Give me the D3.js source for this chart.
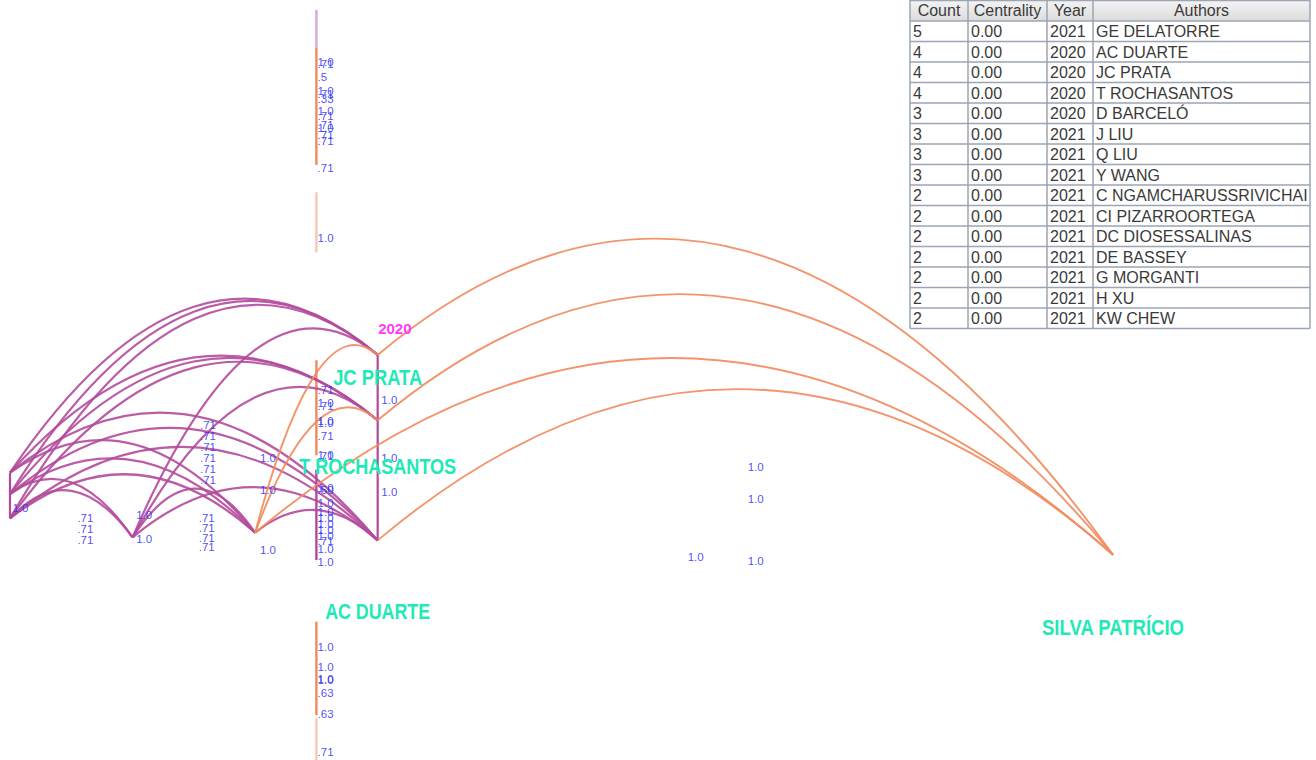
<!DOCTYPE html>
<html>
<head>
<meta charset="utf-8">
<script src="https://cdn.jsdelivr.net/npm/d3@7"></script>
<style>
  html, body { margin: 0; padding: 0; background: #ffffff; }
  svg { display: block; }
</style>
</head>
<body>
<svg id="chart" width="1316" height="760"></svg>
<script>
// ---- Network layout: time slice (x) and layout height 0-100 (y) ----
const nodeIds    = ["L1", "L2", "L3", "N1", "N2", "PRATA", "ROCHA", "DUARTE", "SILVA"];
const nodeSlice  = [0, 0, 0, 1, 2, 3, 3, 3, 9];
const nodeLayY   = [62.2, 65.0, 68.2, 70.7, 70.1, 46.7, 55.3, 71.1, 73.0];

// co-authorship links: source, target, arc crest height, link group
const linkSource = ["L1","L2","L3","N1","L1","L2","L3","N1","L1","L2","L3","N1","N2",
                    "L1","L2","L3","L2","L3","N1",
                    "N2","N2","PRATA","ROCHA","N2","DUARTE"];
const linkTarget = ["PRATA","PRATA","PRATA","PRATA","ROCHA","ROCHA","ROCHA","ROCHA",
                    "DUARTE","DUARTE","DUARTE","DUARTE","DUARTE",
                    "N2","N2","N2","N1","N1","N2",
                    "PRATA","ROCHA","SILVA","SILVA","SILVA","SILVA"];
const linkCrest  = [39.3, 39.6, 40.1, 43.2, 46.8, 47.1, 47.6, 50.9,
                    54.3, 56.3, 58.8, 64.1, 67.1,
                    57.9, 60.3, 62.4, 63.0, 64.5, 64.3,
                    45.4, 53.6, 31.4, 38.7, 47.1, 51.2];
const linkGroup  = ["p","p","p","p","p","p","p","p","p","p","p","p","p",
                    "p","p","p","p","p","p",
                    "o","o","o","o","o","o"];

// time-slice bars: slice, start, end, tone
const barSlice = [2.5, 2.5, 2.5, 2.5, 2.5, 2.5, 2.5];
const barStart = [1.3, 6.3, 25.3, 47.4, 61.8, 81.8, 94.5];
const barEnd   = [6.3, 21.7, 33.2, 59.9, 73.7, 94.1, 100];
const barTone  = ["pl", "o", "ol", "o", "p", "o", "ol"];

// link weight labels: slice, height, text
const weightLabels = [
  [2.51, 8.2, "1.0"], [2.51, 8.4, ".71"], [2.51, 10.1, ".5"], [2.51, 12.0, "1.0"],
  [2.51, 12.4, ".71"], [2.51, 13.0, ".33"], [2.51, 14.6, "1.0"], [2.51, 15.3, ".71"],
  [2.51, 16.4, ".71"], [2.51, 16.8, "1.0"], [2.51, 17.8, ".71"], [2.51, 18.6, ".71"],
  [2.51, 22.1, ".71"], [2.51, 31.3, "1.0"],
  [2.51, 51.3, ".71"], [2.51, 53.0, "1.0"], [2.51, 53.4, ".71"], [2.51, 55.4, "1.0"],
  [2.51, 55.7, "1.0"], [2.51, 57.4, ".71"], [2.51, 59.9, "1.0"], [2.51, 60.0, ".71"],
  [2.51, 64.2, "1.0"], [2.51, 64.5, ".50"], [2.51, 66.2, "1.0"], [2.51, 67.4, "1.0"],
  [2.51, 68.2, "1.0"], [2.51, 68.9, "1.0"], [2.51, 69.7, "1.0"], [2.51, 70.5, "1.0"],
  [2.51, 71.2, ".71"], [2.51, 72.2, "1.0"], [2.51, 73.9, "1.0"],
  [3.03, 52.6, "1.0"], [3.03, 60.3, "1.0"], [3.03, 64.7, "1.0"],
  [0.02, 66.8, "1.0"], [0.55, 68.2, ".71"], [0.55, 69.6, ".71"], [0.55, 71.1, ".71"],
  [1.03, 67.8, "1.0"], [1.03, 70.9, "1.0"],
  [1.55, 55.9, ".71"], [1.55, 57.4, ".71"], [1.55, 58.8, ".71"], [1.55, 60.3, ".71"],
  [1.55, 61.7, ".71"], [1.55, 63.2, ".71"],
  [1.54, 68.2, ".71"], [1.54, 69.5, ".71"], [1.54, 70.8, ".71"], [1.54, 72.0, ".71"],
  [2.04, 60.3, "1.0"], [2.04, 64.5, "1.0"], [2.04, 72.4, "1.0"],
  [6.02, 61.4, "1.0"], [6.02, 65.7, "1.0"], [6.02, 73.8, "1.0"], [5.53, 73.3, "1.0"],
  [2.51, 85.1, "1.0"], [2.51, 87.8, "1.0"], [2.51, 89.3, "1.0"], [2.51, 89.5, "1.0"],
  [2.51, 91.2, ".63"], [2.51, 93.9, ".63"], [2.51, 98.9, ".71"]
];

// author labels
const authorNames = ["JC PRATA", "T ROCHASANTOS", "AC DUARTE", "SILVA PATRÍCIO"];
const authorSlice = [3.0, 3.0, 3.0, 9.0];
const authorLayY  = [49.7, 61.4, 80.4, 82.5];
const authorWidth = [89, 157, 105, 142];

// time slice label
const sliceLabel = "2020";
const sliceLabelPos = [3.14, 43.3];

// ---- table of top authors ----
const tableHeaders = ["Count", "Centrality", "Year", "Authors"];
const counts      = [5, 4, 4, 4, 3, 3, 3, 3, 2, 2, 2, 2, 2, 2, 2];
const centrality  = ["0.00","0.00","0.00","0.00","0.00","0.00","0.00","0.00",
                     "0.00","0.00","0.00","0.00","0.00","0.00","0.00"];
const years       = [2021, 2020, 2020, 2020, 2020, 2021, 2021, 2021, 2021, 2021, 2021, 2021, 2021, 2021, 2021];
const authors     = ["GE DELATORRE", "AC DUARTE", "JC PRATA", "T ROCHASANTOS", "D BARCELÓ",
                     "J LIU", "Q LIU", "Y WANG", "C NGAMCHARUSSRIVICHAI", "CI PIZARROORTEGA",
                     "DC DIOSESSALINAS", "DE BASSEY", "G MORGANTI", "H XU", "KW CHEW"];

// ---- scales ----
const x = d3.scaleLinear().domain([0, 9]).range([10, 1113]);
const y = d3.scaleLinear().domain([0, 100]).range([0, 760]);

const colors = {
  p:  "#b24a9c",
  pl: "#dca6d6",
  o:  "#f2895c",
  ol: "#f8c6b2"
};

const svg = d3.select("#chart");

const nodePos = {};
nodeIds.forEach((id, i) => { nodePos[id] = [x(nodeSlice[i]), y(nodeLayY[i])]; });

// parabolic arc through both ends whose highest point sits at the crest height
function arcPath(a, b, crest) {
  let [x0, y0] = a, [x2, y2] = b;
  if (x2 < x0) { [x0, y0, x2, y2] = [x2, y2, x0, y0]; }
  const s0 = Math.sqrt(Math.max(y0 - crest, 0.01));
  const s2 = Math.sqrt(Math.max(y2 - crest, 0.01));
  const r = (s0 + s2) / (x2 - x0);
  const k = r * r;
  const px = x0 + s0 / r;
  const xm = (x0 + x2) / 2;
  const cy = y0 + 2 * k * (x0 - px) * (xm - x0);
  const p = d3.path();
  p.moveTo(x0, y0);
  p.quadraticCurveTo(xm, cy, x2, y2);
  return p.toString();
}

// time-slice bars
const bars = barSlice.map((s, i) => ({ s, a: barStart[i], b: barEnd[i], t: barTone[i] }));
svg.append("g").selectAll("line").data(bars).join("line")
  .attr("x1", d => x(d.s)).attr("x2", d => x(d.s))
  .attr("y1", d => y(d.a)).attr("y2", d => y(d.b))
  .attr("stroke", d => colors[d.t])
  .attr("stroke-width", 2.4);

// node stems within a slice
const stems = [["L1", "L3"], ["PRATA", "DUARTE"]];
svg.append("g").selectAll("line").data(stems).join("line")
  .attr("x1", d => nodePos[d[0]][0]).attr("x2", d => nodePos[d[1]][0])
  .attr("y1", d => nodePos[d[0]][1]).attr("y2", d => nodePos[d[1]][1])
  .attr("stroke", colors.p)
  .attr("stroke-width", 2.2);

// links
const links = linkSource.map((s, i) => ({ s, t: linkTarget[i], c: linkCrest[i], g: linkGroup[i] }));
svg.append("g").attr("fill", "none").selectAll("path").data(links).join("path")
  .attr("d", d => arcPath(nodePos[d.s], nodePos[d.t], y(d.c)))
  .attr("stroke", d => colors[d.g])
  .attr("stroke-width", d => d.g === "p" ? 2.2 : 1.9)
  .attr("stroke-opacity", 0.9);

// weight labels
svg.append("g").selectAll("text").data(weightLabels).join("text")
  .attr("x", d => x(d[0])).attr("y", d => y(d[1]))
  .attr("dy", "0.35em")
  .attr("font-family", "'Liberation Sans Narrow', 'Liberation Sans', Arial, sans-serif")
  .attr("font-size", 11.5)
  .attr("fill", "#2f2ff5")
  .attr("fill-opacity", 0.85)
  .text(d => d[2]);

// slice year
svg.append("text")
  .attr("x", x(sliceLabelPos[0])).attr("y", y(sliceLabelPos[1]))
  .attr("dy", "0.35em")
  .attr("text-anchor", "middle")
  .attr("font-family", "'Liberation Sans Narrow', 'Liberation Sans', Arial, sans-serif")
  .attr("font-weight", "bold")
  .attr("font-size", 15)
  .attr("fill", "#ff3cf5")
  .text(sliceLabel);

// author labels
svg.append("g").selectAll("text").data(authorNames).join("text")
  .attr("x", (d, i) => x(authorSlice[i])).attr("y", (d, i) => y(authorLayY[i]))
  .attr("dy", "0.35em")
  .attr("text-anchor", "middle")
  .attr("font-family", "'Liberation Sans Narrow', 'Liberation Sans', Arial, sans-serif")
  .attr("font-weight", "bold")
  .attr("font-size", 22)
  .attr("textLength", (d, i) => authorWidth[i])
  .attr("lengthAdjust", "spacingAndGlyphs")
  .attr("fill", "#1eeab6")
  .text(d => d);

// ---- table ----
const colEdges = [910, 968, 1047, 1093, 1310];
const headTop = 0, headH = 21, rowH = 20.5;
const tbl = svg.append("g").attr("font-family", "'Liberation Sans', Arial, sans-serif").attr("font-size", 16);

const grad = svg.append("defs").append("linearGradient").attr("id", "hdr").attr("x1", 0).attr("y1", 0).attr("x2", 0).attr("y2", 1);
grad.append("stop").attr("offset", "0%").attr("stop-color", "#f4f4f4");
grad.append("stop").attr("offset", "100%").attr("stop-color", "#dcdcdc");

const nRows = authors.length;
tbl.append("rect")
  .attr("x", colEdges[0]).attr("y", headTop)
  .attr("width", colEdges[4] - colEdges[0]).attr("height", headH + nRows * rowH)
  .attr("fill", "#ffffff");
tbl.append("rect")
  .attr("x", colEdges[0]).attr("y", headTop)
  .attr("width", colEdges[4] - colEdges[0]).attr("height", headH)
  .attr("fill", "url(#hdr)");

// header labels
tbl.selectAll("text.h").data(tableHeaders).join("text").attr("class", "h")
  .attr("x", (d, i) => (colEdges[i] + colEdges[i + 1]) / 2)
  .attr("y", headTop + headH / 2)
  .attr("dy", "0.35em")
  .attr("text-anchor", "middle")
  .attr("fill", "#3a3a3a")
  .text(d => d);

const rows = authors.map((a, i) => [String(counts[i]), centrality[i], String(years[i]), a]);
rows.forEach((r, ri) => {
  tbl.append("g").selectAll("text").data(r).join("text")
    .attr("x", (d, ci) => colEdges[ci] + 3)
    .attr("y", headTop + headH + ri * rowH + rowH / 2)
    .attr("dy", "0.36em")
    .attr("fill", "#3a3a3a")
    .text(d => d);
});

// grid
const gridColor = "#9aa5b5";
const hLines = d3.range(nRows + 2).map(i => i === 0 ? headTop + 0.5 : headTop + headH + (i - 1) * rowH);
tbl.append("g").selectAll("line").data(hLines).join("line")
  .attr("x1", colEdges[0]).attr("x2", colEdges[4])
  .attr("y1", d => d).attr("y2", d => d)
  .attr("stroke", gridColor).attr("stroke-width", 1.5);
tbl.append("g").selectAll("line").data(colEdges).join("line")
  .attr("x1", d => d).attr("x2", d => d)
  .attr("y1", headTop).attr("y2", headTop + headH + nRows * rowH)
  .attr("stroke", gridColor).attr("stroke-width", 1.5);
</script>
</body>
</html>
